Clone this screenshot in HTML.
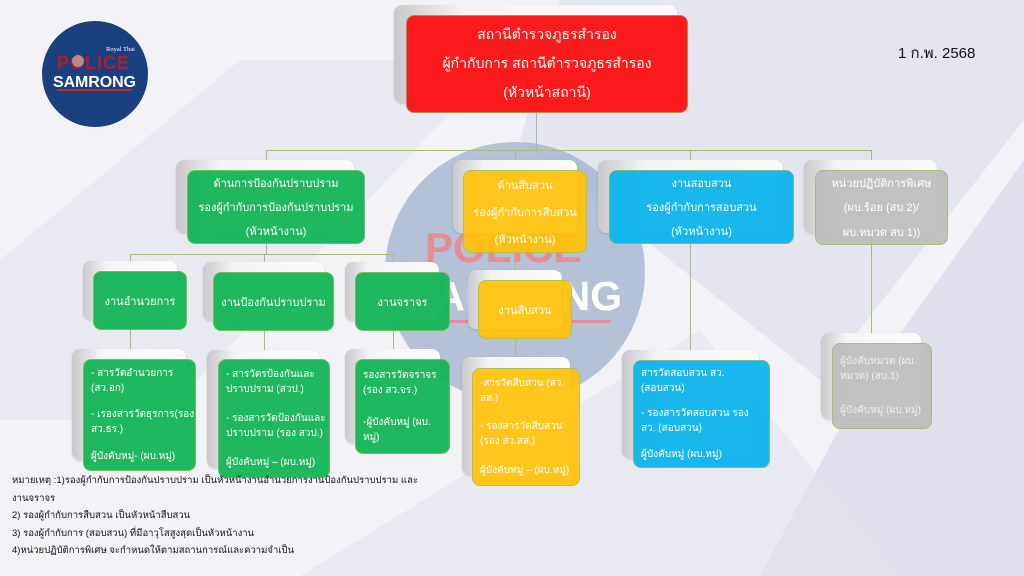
<!DOCTYPE html>
<html><head><meta charset="utf-8"><style>
*{margin:0;padding:0;box-sizing:border-box}
body{width:1024px;height:576px;overflow:hidden;position:relative;background:#f3f3f7;font-family:"Liberation Sans","Noto Sans CJK SC",sans-serif}
.bk{position:absolute;border-radius:8px;background:linear-gradient(90deg,#c9c9cb 0%,#f4f4f5 25%,#fbfbfb 100%);box-shadow:0 1px 2px rgba(0,0,0,.15)}
.bx{position:absolute;border-radius:8px;color:#fff;font-size:11px;display:flex;flex-direction:column;justify-content:space-around;align-items:center;text-align:center;border:1px solid rgba(150,190,110,.7)}
.l{text-align:left;align-items:flex-start;padding-left:7px}
.g{background:rgba(20,180,85,.95)}
.y{background:rgba(255,194,10,.93)}
.b{background:rgba(12,180,236,.95)}
.gr{background:rgba(185,185,185,.88)}
.ln{position:absolute;background:#a6bd80}
</style></head><body>
<svg style="position:absolute;left:0;top:0" width="1024" height="576">
<polygon points="0,260 240,60 500,60 160,420 0,420" fill="#e4e4ee" opacity=".7"/>
<polygon points="560,0 1024,0 1024,120 820,380 520,140" fill="#dcdce9" opacity=".6"/>
<polygon points="1024,160 1024,576 760,576 860,390" fill="#d6d6e6" opacity=".6"/>
<polygon points="300,576 700,330 900,576" fill="#e2e2ec" opacity=".6"/>
<circle cx="515" cy="272" r="130" fill="#a8b7d1" opacity=".85"/>
<text x="425" y="262" font-family="Liberation Sans" font-weight="bold" font-size="42" fill="#e58c95">POLICE</text>
<text x="408" y="310" font-family="Liberation Sans" font-weight="bold" font-size="41" fill="#fff">SAMRONG</text>
<rect x="440" y="320" width="170" height="3" fill="#e58c95"/>
<circle cx="95" cy="74" r="53" fill="#1b407f"/>
<text x="106" y="51" font-family="Liberation Serif" font-size="6.5" fill="#fff">Royal Thai</text>
<text x="57" y="69" font-family="Liberation Sans" font-weight="bold" font-size="18" fill="#b71c22" letter-spacing="1">POLICE</text>
<circle cx="78" cy="61" r="6" fill="#b98a8a"/>
<text x="53" y="87" font-family="Liberation Sans" font-weight="bold" font-size="16" fill="#fff" textLength="83">SAMRONG</text>
<rect x="57" y="89" width="75" height="2" fill="#c1272d"/>
</svg>
<div style="position:absolute;left:898px;top:41px;font-size:15px;color:#111">1 ก.พ. 2568</div>

<div class="ln" style="left:536px;top:112px;width:1px;height:38px"></div>
<div class="ln" style="left:266px;top:150px;width:605px;height:1px"></div>
<div class="ln" style="left:266px;top:150px;width:1px;height:105px"></div>
<div class="ln" style="left:130px;top:254px;width:263px;height:1px"></div>
<div class="ln" style="left:130px;top:254px;width:1px;height:105px"></div>
<div class="ln" style="left:264px;top:254px;width:1px;height:105px"></div>
<div class="ln" style="left:393px;top:254px;width:1px;height:105px"></div>
<div class="ln" style="left:515px;top:150px;width:1px;height:220px"></div>
<div class="ln" style="left:690px;top:150px;width:1px;height:210px"></div>
<div class="ln" style="left:871px;top:150px;width:1px;height:193px"></div>

<div class="bk" style="left:394px;top:5px;width:283px;height:98px"></div>
<div class="bx" style="left:406px;top:15px;width:282px;height:98px;background:#fb1a1c;font-size:14px;padding:4px 0">
<div>สถานีตำรวจภูธรสำรอง</div><div>ผู้กำกับการ สถานีตำรวจภูธรสำรอง</div><div>(หัวหน้าสถานี)</div></div>

<div class="bk" style="left:176px;top:160px;width:178px;height:73px"></div>
<div class="bx g" style="left:187px;top:170px;width:178px;height:74px"><div>ด้านการป้องกันปราบปราม</div><div>รองผู้กำกับการป้องกันปราบปราม</div><div>(หัวหน้างาน)</div></div>
<div class="bk" style="left:453px;top:160px;width:124px;height:73px"></div>
<div class="bx y" style="left:463px;top:170px;width:124px;height:83px"><div>ด้านสืบสวน</div><div>รองผู้กำกับการสืบสวน</div><div>(หัวหน้างาน)</div></div>
<div class="bk" style="left:598px;top:160px;width:185px;height:73px"></div>
<div class="bx b" style="left:609px;top:170px;width:185px;height:74px"><div>งานสอบสวน</div><div>รองผู้กำกับการสอบสวน</div><div>(หัวหน้างาน)</div></div>
<div class="bk" style="left:804px;top:160px;width:133px;height:73px"></div>
<div class="bx gr" style="left:815px;top:170px;width:133px;height:75px"><div>หน่วยปฏิบัติการพิเศษ</div><div>(ผบ.ร้อย (สบ 2)/</div><div>ผบ.หมวด สบ 1))</div></div>

<div class="bk" style="left:83px;top:261px;width:94px;height:59px"></div>
<div class="bx g" style="left:93px;top:271px;width:94px;height:59px"><div>งานอำนวยการ</div></div>
<div class="bk" style="left:203px;top:262px;width:121px;height:59px"></div>
<div class="bx g" style="left:213px;top:272px;width:121px;height:59px"><div>งานป้องกันปราบปราม</div></div>
<div class="bk" style="left:345px;top:262px;width:94px;height:59px"></div>
<div class="bx g" style="left:355px;top:272px;width:95px;height:59px"><div>งานจราจร</div></div>
<div class="bk" style="left:468px;top:270px;width:94px;height:59px"></div>
<div class="bx y" style="left:478px;top:280px;width:94px;height:59px"><div>งานสืบสวน</div></div>

<div class="bk" style="left:72px;top:349px;width:114px;height:111px"></div>
<div class="bx g l" style="left:83px;top:359px;width:113px;height:112px;font-size:10px"><div>- สารวัตอำนวยการ<br>(สว.อก)</div><div>- เรองสารวัตธุรการ(รอง<br>สว.ธร.)</div><div>ผู้บังคับหมู่- (ผบ.หมู่)</div></div>
<div class="bk" style="left:207px;top:350px;width:113px;height:118px"></div>
<div class="bx g l" style="left:218px;top:359px;width:112px;height:119px;font-size:10px"><div>- สารวัตรป้องกันและ<br>ปราบปราม (สวป.)</div><div>- รองสารวัตป้องกันและ<br>ปราบปราม (รอง สวป.)</div><div>ผู้บังคับหมู่ – (ผบ.หมู่)</div></div>
<div class="bk" style="left:345px;top:349px;width:95px;height:94px"></div>
<div class="bx g l" style="left:355px;top:359px;width:95px;height:95px;font-size:10px"><div>รองสารวัตจราจร<br>(รอง สว.จร.)</div><div>-ผู้บังคับหมู่ (ผบ.<br>หมู่)</div></div>
<div class="bk" style="left:462px;top:357px;width:108px;height:118px"></div>
<div class="bx y l" style="left:472px;top:368px;width:108px;height:118px;font-size:10px"><div>-สารวัตสืบสวน (สว.<br>สส.)</div><div>- รองสารวัตสืบสวน<br>(รอง สว.สส.)</div><div>ผู้บังคับหมู่ – (ผบ.หมู่)</div></div>
<div class="bk" style="left:622px;top:350px;width:137px;height:108px"></div>
<div class="bx b l" style="left:633px;top:360px;width:137px;height:108px;font-size:10px"><div>สารวัตสอบสวน สว.<br>(สอบสวน)</div><div>- รองสารวัตสอบสวน รอง<br>สว. (สอบสวน)</div><div>ผู้บังคับหมู่ (ผบ.หมู่)</div></div>
<div class="bk" style="left:821px;top:333px;width:100px;height:86px"></div>
<div class="bx gr l" style="left:832px;top:343px;width:100px;height:86px;font-size:10px;color:#eee"><div>ผู้บังคับหมวด (ผบ.<br>หมวด) (สบ.1)</div><div>ผู้บังคับหมู่ (ผบ.หมู่)</div></div>

<div style="position:absolute;left:12px;top:472px;font-size:9.5px;line-height:17.5px;color:#111">
หมายเหตุ :1)รองผู้กำกับการป้องกันปราบปราม เป็นหัวหน้างานอำนวยการงานป้องกันปราบปราม และ<br>งานจราจร<br>2) รองผู้กำกับการสืบสวน เป็นหัวหน้าสืบสวน<br>3) รองผู้กำกับการ (สอบสวน) ที่มีอาวุโสสูงสุดเป็นหัวหน้างาน<br>4)หน่วยปฏิบัติการพิเศษ จะกำหนดให้ตามสถานการณ์และความจำเป็น</div>
</body></html>
